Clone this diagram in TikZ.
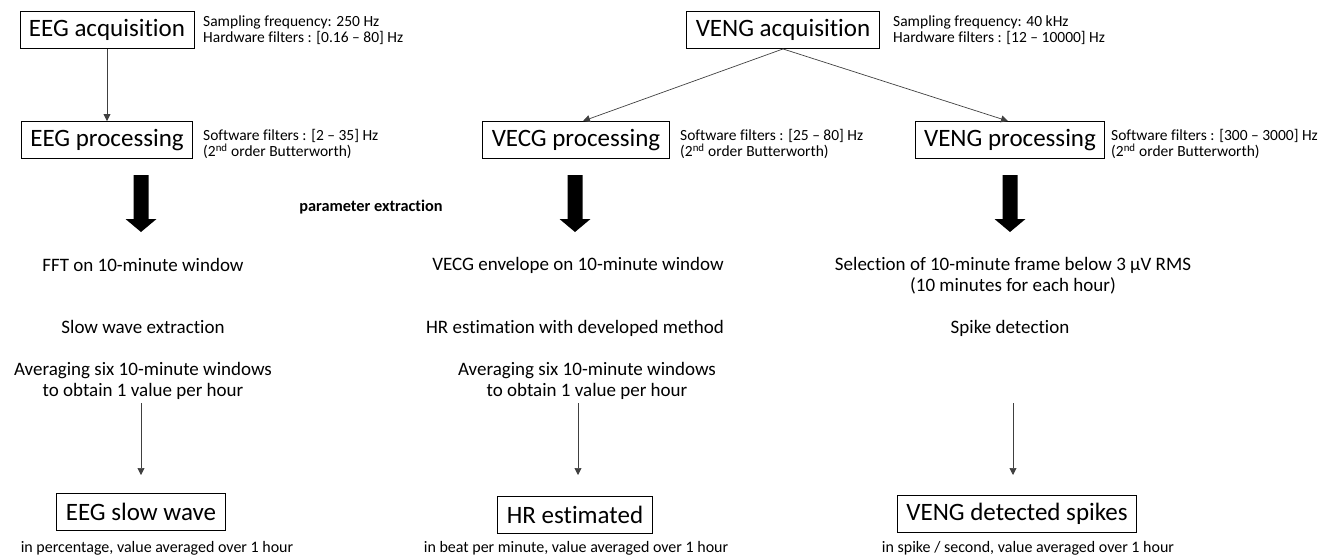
\documentclass[tikz,border=0pt]{standalone}
\usepackage{fontspec}
\setmainfont[Ligatures=NoCommon]{Carlito}
\usepackage{tikz}
\usetikzlibrary{arrows.meta}

\tikzset{
  stagebox/.style={draw, line width=0.9pt, minimum height=37pt, inner xsep=9pt,
    font=\fontsize{25}{28}\selectfont},
  sidenote/.style={anchor=west, align=left, inner sep=0pt,
    font=\fontsize{15.5}{15.5}\selectfont},
  steptext/.style={align=center, inner sep=0pt,
    font=\fontsize{19}{21}\selectfont},
  unitnote/.style={inner sep=0pt, font=\fontsize{16}{18}\selectfont},
  flow/.style={line width=0.7pt, draw=black!75, -{Triangle[width=7pt,length=7pt]}},
}

% thick block arrow pointing down, centred at x
\newcommand{\bigdownarrow}[1]{%
  \fill (#1-7.5,175) -- (#1+7.5,175) -- (#1+7.5,219) -- (#1+15.5,219)
        -- (#1,232) -- (#1-15.5,219) -- (#1-7.5,219) -- cycle;}

\begin{document}
\begin{tikzpicture}[x=1pt,y=-1pt]
                \useasboundingbox (0,0) rectangle (1326,555);

                % Drawing acquisition boxes
                \node[stagebox] (eegacq) at (107,30) {EEG acquisition};%
                \node[sidenote] (eegacqnote) at (203,30) {Sampling frequency: 250 Hz\\Hardware filters : [0.16 – 80] Hz};%
                \node[stagebox] (vengacq) at (783,30) {VENG acquisition};%
                \node[sidenote] (vengacqnote) at (893,30) {Sampling frequency: 40 kHz\\Hardware filters : [12 – 10000] Hz};%

                % Drawing processing boxes
                \node[stagebox] (eegproc) at (107,140) {EEG processing};%
                \node[sidenote] (eegprocnote) at (203,144) {Software filters : [2 – 35] Hz\\(2\textsuperscript{nd} order Butterworth)};%
                \node[stagebox] (vecgproc) at (576,140) {VECG processing};%
                \node[sidenote] (vecgprocnote) at (680,144) {Software filters : [25 – 80] Hz\\(2\textsuperscript{nd} order Butterworth)};%
                \node[stagebox] (vengproc) at (1010,140) {VENG processing};%
                \node[sidenote] (vengprocnote) at (1111,144) {Software filters : [300 – 3000] Hz\\(2\textsuperscript{nd} order Butterworth)};%

                % Drawing acquisition -> processing links
                \draw[flow] (eegacq) -- (eegproc);%
                \draw[flow] (vengacq.south) -- ([xshift=7pt]vecgproc.north);%
                \draw[flow] (vengacq.south) -- ([xshift=-2pt]vengproc.north);%

                % Drawing thick arrows
                \bigdownarrow{141}%
                \bigdownarrow{575}%
                \bigdownarrow{1010}%
                \node[inner sep=0pt, font=\fontsize{16.3}{18}\bfseries\selectfont] (param) at (371,207) {parameter extraction};%

                % Drawing extraction steps
                \node[steptext] (eegfft) at (143,265) {FFT on 10-minute window};%
                \node[steptext] (eegslow) at (143,327) {Slow wave extraction};%
                \node[steptext] (eegavg) at (143,381) {Averaging six 10-minute windows\\to obtain 1 value per hour};%
                \node[steptext] (vecgenv) at (578,265) {VECG envelope on 10-minute window};%
                \node[steptext] (vecghr) at (575,328) {HR estimation with developed method};%
                \node[steptext] (vecgavg) at (587,381) {Averaging six 10-minute windows\\to obtain 1 value per hour};%
                \node[steptext] (vengsel) at (1013,276) {Selection of 10-minute frame below 3 µV RMS\\(10 minutes for each hour)};%
                \node[steptext] (vengspk) at (1010,328) {Spike detection};%

                % Drawing result boxes
                \node[stagebox] (eegwave) at (141,512) {EEG slow wave};%
                \node[stagebox] (hrest) at (575,515) {HR estimated};%
                \node[stagebox] (vengspikes) at (1017,514) {VENG detected spikes};%
                \node[unitnote] (eegunit) at (157,548) {in percentage, value averaged over 1 hour};%
                \node[unitnote] (hrunit) at (576,548) {in beat per minute, value averaged over 1 hour};%
                \node[unitnote] (vengunit) at (1028,548) {in spike / second, value averaged over 1 hour};%

                % Drawing thin arrows to results
                \coordinate (eegfrom) at (141,403);%
                \coordinate (eegto) at (141,475);%
                \coordinate (hrfrom) at (578,403);%
                \coordinate (hrto) at (578,475);%
                \coordinate (vengfrom) at (1013,403);%
                \coordinate (vengto) at (1013,475);%
                \draw[flow] (eegfrom) -- (eegto);%
                \draw[flow] (hrfrom) -- (hrto);%
                \draw[flow] (vengfrom) -- (vengto);%
\end{tikzpicture}
\end{document}
